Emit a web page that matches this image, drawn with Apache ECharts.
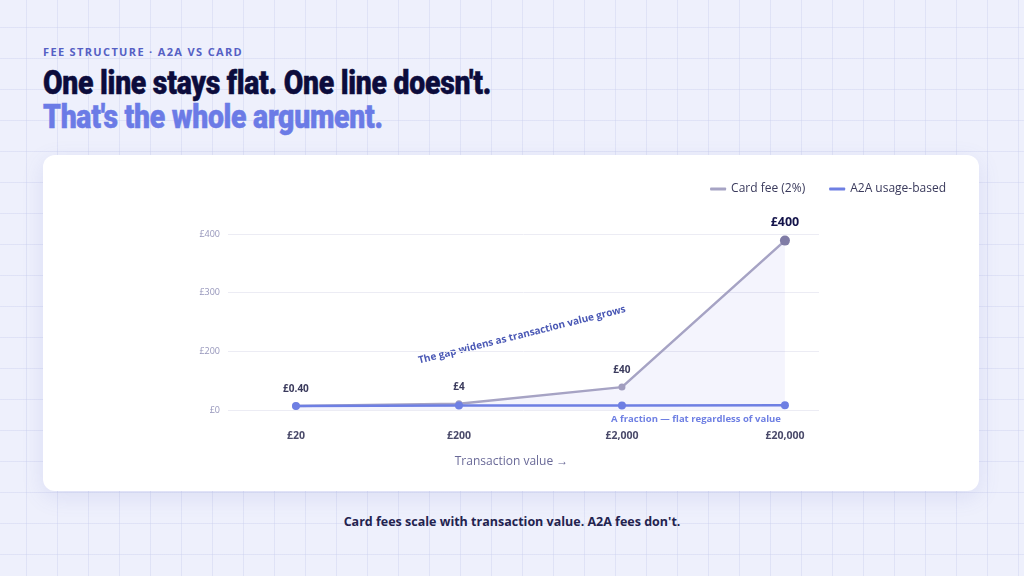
<!DOCTYPE html>
<html>
<head>
<meta charset="utf-8">
<script src="https://cdn.jsdelivr.net/npm/echarts@6/dist/echarts.min.js"></script>
<style>
  html, body { margin: 0; padding: 0; }
  body {
    width: 1024px; height: 576px; overflow: hidden; position: relative;
    background-color: #eef0fc;
    background-image:
      linear-gradient(to right, rgba(205,210,240,0.45) 1px, transparent 1px),
      linear-gradient(to bottom, rgba(205,210,240,0.45) 1px, transparent 1px);
    background-size: 31px 31px;
    background-position: 26px 27px;
    font-family: "Open Sans", "Noto Sans", sans-serif;
  }
  .kicker {
    position: absolute; left: 43px; top: 44px;
    font-size: 11px; font-weight: 700; letter-spacing: 1.35px;
    color: #5560c4;
  }
  .title {
    position: absolute; left: 43px; top: 66px;
    font-family: "Roboto", sans-serif;
    font-weight: 900; font-size: 33px; line-height: 34px;
    letter-spacing: -0.3px;
    -webkit-text-stroke: 0.5px currentColor;
    white-space: nowrap;
    transform-origin: 0 0;
  }
  .title .l1 { color: #0c0c3c; }
  .title .l2 { color: #6b7be6; }
  .card {
    position: absolute; left: 43px; top: 155px; width: 936px; height: 336px;
    background: #ffffff; border-radius: 12px;
    box-shadow: 0 6px 22px rgba(90,100,190,0.13);
  }
  #chart { position: absolute; left: 0; top: 0; width: 936px; height: 336px; }
  .footer {
    position: absolute; left: 0; width: 1024px; top: 513px; text-align: center;
    font-size: 12.5px; font-weight: 700; color: #23234f;
  }
</style>
</head>
<body>
<div class="kicker">FEE STRUCTURE · A2A VS CARD</div>
<div class="title"><div class="l1">One line stays flat. One line doesn't.</div><div class="l2">That's the whole argument.</div></div>
<div class="card"><div id="chart"></div></div>
<div class="footer">Card fees scale with transaction value. A2A fees don't.</div>
<script>
// ---- data ----
const categories = ['£20', '£200', '£2,000', '£20,000'];
const cardFee = [9, 14, 52, 385];          // as plotted in the reference
const cardFeeLabels = ['£0.40', '£4', '£40', '£400'];
const a2aFee = [9, 10, 10, 11];
const yTickLabels = ['£0', '£200', '£300', '£400'];
const seriesNames = ['Card fee (2%)', 'A2A usage-based'];
const xAxisName = 'Transaction value →';
const gapNote = 'The gap widens as transaction value grows';
const flatNote = 'A fraction — flat regardless of value';

const yMax = 400;
const yStep = yMax / (yTickLabels.length - 1);

const chart = echarts.init(document.getElementById('chart'), null, { renderer: 'canvas' });
const font = '"Open Sans", "Noto Sans", sans-serif';

const cardData = cardFee.map((v, i) => {
  const last = i === cardFee.length - 1;
  return {
    value: [i, v],
    symbolSize: last ? 10 : 7,
    itemStyle: { color: last ? '#807ca6' : '#a19dbf' },
    label: {
      show: true, position: 'top', distance: last ? 7 : 8,
      formatter: cardFeeLabels[i],
      fontSize: last ? 12.5 : 10, fontWeight: 700, fontFamily: font,
      color: last ? '#13134a' : '#3a3a5c'
    }
  };
});
const a2aData = a2aFee.map((v, i) => [i, v]);

chart.setOption({
  animation: false,
  textStyle: { fontFamily: font },
  grid: { left: 185, right: 160, top: 79, bottom: 81 },
  legend: {
    right: 28, top: 23,
    icon: 'roundRect', itemWidth: 16, itemHeight: 3, itemGap: 24,
    textStyle: { fontSize: 12, color: '#3a3a5c', fontFamily: font, fontWeight: 500 },
    data: seriesNames
  },
  xAxis: {
    type: 'value',
    min: -0.417, max: 3.209,
    axisLine: { show: false }, axisTick: { show: false }, splitLine: { show: false },
    axisLabel: {
      customValues: categories.map((c, i) => i),
      formatter: v => categories[Math.round(v)] || '',
      margin: 21, fontSize: 10.5, fontWeight: 700, color: '#4a4a6a', fontFamily: font
    },
    name: xAxisName, nameLocation: 'middle', nameGap: 46,
    nameTextStyle: { fontSize: 12, color: '#6a6a98', fontFamily: font, padding: [0, 24, 0, 0] }
  },
  yAxis: {
    type: 'value', min: 0, max: yMax, interval: yStep,
    axisLine: { show: false }, axisTick: { show: false },
    splitLine: { lineStyle: { color: '#ececf4', width: 1 } },
    axisLabel: {
      formatter: v => yTickLabels[Math.round(v / yStep)] || '',
      margin: 8, fontSize: 9, color: '#9696bb', fontFamily: font
    }
  },
  series: [
    {
      name: seriesNames[0], type: 'line', data: cardData,
      symbol: 'circle', showSymbol: true,
      lineStyle: { color: '#a6a3c4', width: 2.5 },
      itemStyle: { color: '#a6a3c4' },
      areaStyle: { color: 'rgba(120,120,225,0.11)' },
      z: 2
    },
    {
      name: seriesNames[1], type: 'line', data: a2aData,
      symbol: 'circle', symbolSize: 8, showSymbol: true,
      lineStyle: { color: '#6e7fe3', width: 2.5 },
      itemStyle: { color: '#6e7fe3' },
      z: 3
    }
  ],
  graphic: [
    {
      type: 'text', x: 479, y: 180, rotation: 0.245,
      style: {
        text: gapNote, x: 0, y: 0, align: 'center', verticalAlign: 'middle',
        fontSize: 10, fontWeight: 700, fill: '#4a58b5', fontFamily: font
      }
    },
    {
      type: 'text', x: 653, y: 264,
      style: {
        text: flatNote, x: 0, y: 0, align: 'center', verticalAlign: 'middle',
        fontSize: 9.5, fontWeight: 700, fill: '#6e7fe3', fontFamily: font
      }
    }
  ]
});

// fit title width to the reference proportions
const l1 = document.querySelector('.title .l1');
const t = document.querySelector('.title');
const w = l1.getBoundingClientRect().width;
if (w > 0) { t.style.transform = 'scaleX(' + (448 / w) + ')'; }
</script>
</body>
</html>
